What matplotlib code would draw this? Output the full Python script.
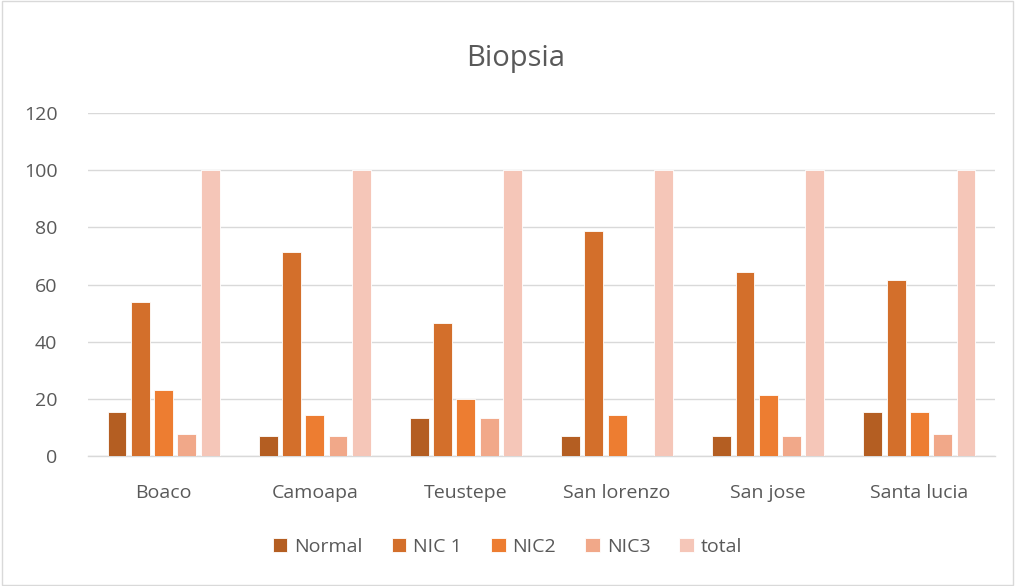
#!/usr/bin/env python3
"""Biopsia: distribución por municipio (gráfico de barras agrupadas)."""

import numpy as np
import matplotlib.pyplot as plt
from matplotlib.patches import Rectangle

plt.rcParams["font.family"] = ["Open Sans", "DejaVu Sans"]

categories = ["Boaco", "Camoapa", "Teustepe", "San lorenzo", "San jose", "Santa lucia"]
series_names = ["Normal", "NIC 1", "NIC2", "NIC3", "total"]
normal = [15.4, 7.1, 13.3, 7.1, 7.1, 15.4]
nic1 = [53.8, 71.4, 46.7, 78.6, 64.3, 61.5]
nic2 = [23.1, 14.3, 20.0, 14.3, 21.4, 15.4]
nic3 = [7.7, 7.1, 13.3, 0.0, 7.1, 7.7]
total = [100, 100, 100, 100, 100, 100]
yticks = [0, 20, 40, 60, 80, 100, 120]

colors = ["#B45E22", "#D36F2B", "#ED7D31", "#F1A889", "#F5C6B8"]
text_color = "#595959"

fig = plt.figure(figsize=(10.15, 5.86), dpi=100)
ax = fig.add_axes([0.0867, 0.2218, 0.8936, 0.5854])

x = np.arange(len(categories))
step = 0.154
width = 0.125
all_series = [normal, nic1, nic2, nic3, total]
for i, (name, vals) in enumerate(zip(series_names, all_series)):
    offset = (i - 2) * step
    ax.bar(x + offset, vals, width, color=colors[i], edgecolor="white",
           linewidth=0.6, label=name, zorder=3)

ax.set_xlim(-0.5, len(categories) - 0.5)
ax.set_ylim(0, 120)
ax.set_yticks(yticks)
ax.set_xticks(x)
ax.set_xticklabels(categories)
ax.tick_params(axis="both", length=0, labelsize=14, colors=text_color)
ax.tick_params(axis="y", pad=22)
ax.tick_params(axis="x", pad=20)
ax.grid(True, axis="y", color="#D9D9D9", linewidth=1, zorder=0)
for side in ["top", "right", "left"]:
    ax.spines[side].set_visible(False)
ax.spines["bottom"].set_color("#D9D9D9")
ax.spines["bottom"].set_linewidth(1)

fig.text(0.508, 0.9, "Biopsia", ha="center", va="center", fontsize=21,
         color=text_color)

handles, labels = ax.get_legend_handles_labels()
fig.legend(handles, labels, loc="center", bbox_to_anchor=(0.5, 0.067), ncol=5,
           frameon=False, fontsize=14, labelcolor=text_color,
           handlelength=0.75, handleheight=0.75, handletextpad=0.35, columnspacing=1.5)

# borde gris del área del gráfico
fig.patches.append(Rectangle((0.002, 0.002), 0.996, 0.996, transform=fig.transFigure,
                             fill=False, edgecolor="#D9D9D9", linewidth=1))

fig.savefig("out.png", dpi=100)
plt.close(fig)
